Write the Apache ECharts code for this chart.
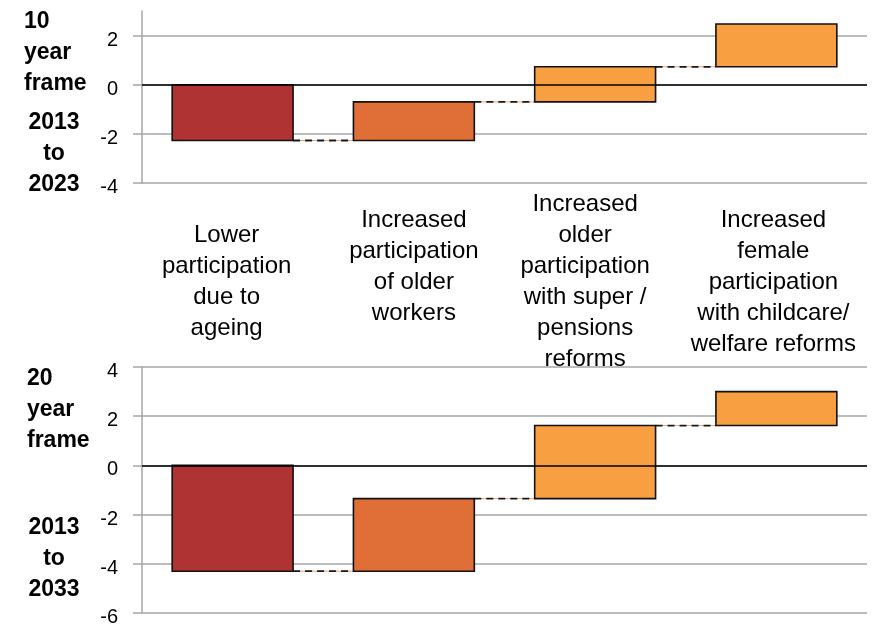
<!DOCTYPE html>
<html>
<head>
<meta charset="utf-8">
<script src="https://cdn.jsdelivr.net/npm/echarts@6/dist/echarts.min.js"></script>
<style>
html,body{margin:0;padding:0;background:#fff;}
#chart{width:890px;height:624px;}
</style>
</head>
<body>
<div id="chart"></div>
<script>
// ---- data ----
const categories = [
  'Lower\nparticipation\ndue to\nageing',
  'Increased\nparticipation\nof older\nworkers',
  'Increased\nolder\nparticipation\nwith super /\npensions\nreforms',
  'Increased\nfemale\nparticipation\nwith childcare/\nwelfare reforms'
];
// changes (percentage points), 10 year frame 2013 to 2023
const change10 = [-2.27, 1.57, 1.43, 1.74];
// changes, 20 year frame 2013 to 2033
const change20 = [-4.30, 2.95, 2.97, 1.38];
const yTicks10 = [-4, -2, 0, 2];
const yTicks20 = [-6, -4, -2, 0, 2, 4];
const leftLabels = ['10\nyear\nframe', '2013\nto\n2023', '20\nyear\nframe', '2013\nto\n2033'];

// ---- styles ----
const barColors = ['#B03333', '#E06F37', '#F79F41', '#F79F41'];
const FONT = '"Liberation Sans", Arial, sans-serif';
const labelShiftPad = [12, 0, 20, 6];

function waterfall(changes) {
  let acc = 0;
  return changes.map((d, i) => {
    const s = acc; acc += d;
    return [i, s, acc];
  });
}

function renderItem(params, api) {
  const i = api.value(0), s = api.value(1), e = api.value(2);
  const p1 = api.coord([i, s]);
  const p2 = api.coord([i, e]);
  const band = api.size([1, 0])[0];
  const w = band * 0.667;
  const children = [{
    type: 'rect',
    shape: { x: p1[0] - w / 2, y: Math.min(p1[1], p2[1]), width: w, height: Math.abs(p2[1] - p1[1]) },
    style: { fill: barColors[i], stroke: '#111', lineWidth: 1.6 },
    z2: 10
  }];
  if (i < params.dataInsideLength - 1) {
    const x1 = p2[0] + w / 2, x2 = p2[0] + band - w / 2;
    children.push({
      type: 'line', shape: { x1: x1, y1: p2[1], x2: x2, y2: p2[1] },
      style: { stroke: '#F4A06A', lineWidth: 1 }, z2: 5
    });
    children.push({
      type: 'line', shape: { x1: x1, y1: p2[1], x2: x2, y2: p2[1] },
      style: { stroke: '#1a1a1a', lineWidth: 1.8, lineDash: [7, 5] }, z2: 6
    });
  }
  return { type: 'group', children: children };
}

const yAxisCommon = {
  type: 'value',
  interval: 2,
  axisLine: { show: true, lineStyle: { color: '#A6A6A6', width: 1.5 } },
  axisTick: { show: true, length: 9, lineStyle: { color: '#A6A6A6', width: 1.5 } },
  splitLine: { show: true, lineStyle: { color: '#A6A6A6', width: 1.5 } },
  axisLabel: { color: '#000', fontSize: 20, fontFamily: FONT, margin: 24, verticalAlign: 'top', lineHeight: 9 }
};

const zeroLine = {
  silent: true, symbol: 'none', label: { show: false },
  lineStyle: { color: '#000', width: 1.5, type: 'solid' },
  data: [{ yAxis: 0 }], animation: false
};

const rich = {};
labelShiftPad.forEach((p, i) => {
  rich['a' + i] = { fontSize: 24, fontFamily: FONT, lineHeight: 31, color: '#000', padding: [0, p, 0, 0] };
});

const option = {
  animation: false,
  grid: [
    { left: 142, right: 23, top: 11, height: 172, outerBoundsMode: 'none', containLabel: false },
    { left: 142, right: 23, top: 367, height: 246, outerBoundsMode: 'none', containLabel: false }
  ],
  xAxis: [
    {
      type: 'category', gridIndex: 0, data: categories,
      axisLine: { show: false }, axisTick: { show: false }, splitLine: { show: false },
      axisLabel: {
        interval: 0, color: '#000', fontSize: 24, fontFamily: FONT, lineHeight: 31,
        margin: 99, verticalAlign: 'middle', align: 'center',
        formatter: function (v, i) {
          const lines = v.split('\n').map(l => '{a' + i + '|' + l + '}');
          if (i === 1) lines.push('{a1| }');
          return lines.join('\n');
        },
        rich: rich
      }
    },
    {
      type: 'category', gridIndex: 1, data: categories,
      axisLine: { show: false }, axisTick: { show: false }, splitLine: { show: false },
      axisLabel: { show: false }
    }
  ],
  yAxis: [
    Object.assign({}, yAxisCommon, {
      gridIndex: 0, min: yTicks10[0], max: 3,
      axisLabel: Object.assign({}, yAxisCommon.axisLabel, { showMaxLabel: false }),
      axisTick: Object.assign({}, yAxisCommon.axisTick, { customValues: yTicks10 })
    }),
    Object.assign({}, yAxisCommon, { gridIndex: 1, min: yTicks20[0], max: yTicks20[yTicks20.length - 1] })
  ],
  series: [
    {
      type: 'custom', xAxisIndex: 0, yAxisIndex: 0,
      renderItem: renderItem, data: waterfall(change10),
      encode: { x: 0, y: [1, 2] }, markLine: zeroLine, z: 3
    },
    {
      type: 'custom', xAxisIndex: 1, yAxisIndex: 1,
      renderItem: renderItem, data: waterfall(change20),
      encode: { x: 0, y: [1, 2] }, markLine: zeroLine, z: 3
    }
  ],
  graphic: [
    { type: 'text', x: 24, y: 6, style: { text: leftLabels[0], font: 'bold 23px ' + FONT, lineHeight: 31, fill: '#000', align: 'left', verticalAlign: 'top' } },
    { type: 'text', x: 54, y: 107, style: { text: leftLabels[1], font: 'bold 23px ' + FONT, lineHeight: 31, fill: '#000', align: 'center', verticalAlign: 'top' } },
    { type: 'text', x: 27, y: 363, style: { text: leftLabels[2], font: 'bold 23px ' + FONT, lineHeight: 31, fill: '#000', align: 'left', verticalAlign: 'top' } },
    { type: 'text', x: 54, y: 512, style: { text: leftLabels[3], font: 'bold 23px ' + FONT, lineHeight: 31, fill: '#000', align: 'center', verticalAlign: 'top' } }
  ]
};

const chart = echarts.init(document.getElementById('chart'), null, { renderer: 'canvas' });
chart.setOption(option);
</script>
</body>
</html>
